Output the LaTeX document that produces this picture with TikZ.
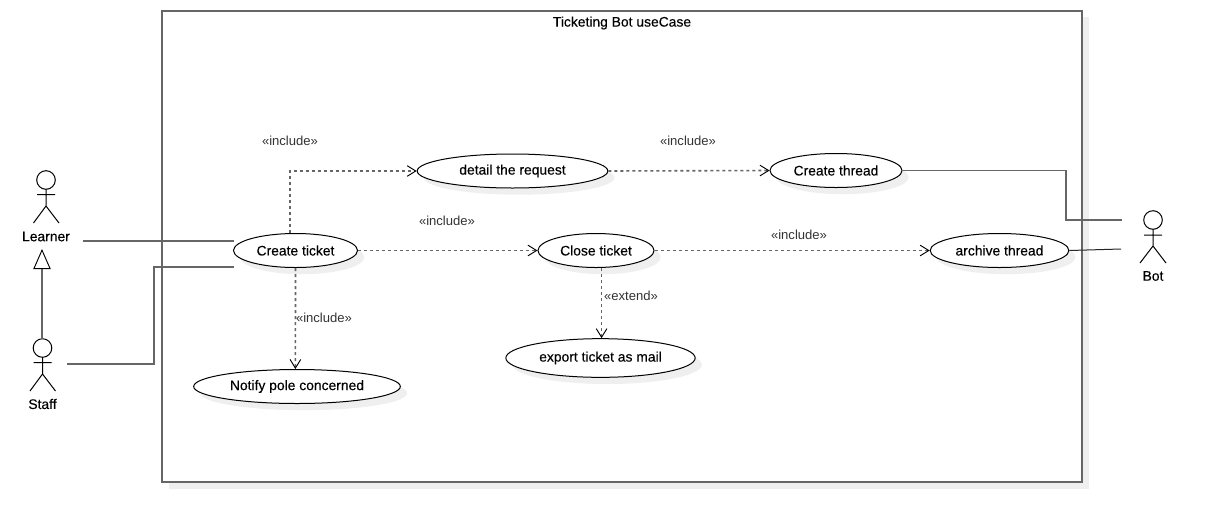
\documentclass[tikz,border=0pt]{standalone}
\usepackage{fontspec}
\setmainfont{Liberation Sans}
\usetikzlibrary{shapes.geometric,arrows.meta,shadows}
\definecolor{edgegrey}{HTML}{666666}
\definecolor{shadowgrey}{HTML}{EFEFEF}
\definecolor{labelgrey}{HTML}{333333}
\tikzset{
  x=0.75pt,y=-0.75pt,
  softshadow/.style={general shadow={shadow xshift=5pt,shadow yshift=-5pt,fill=shadowgrey,draw=none}},
  usecase/.style={ellipse,draw=black,line width=0.75pt,fill=white,inner sep=0pt,minimum height=25.5pt,softshadow,font=\fontsize{10.4}{12}\selectfont\addfontfeatures{FakeBold=0.3}},
  system/.style={rectangle,draw=edgegrey,line width=1.5pt,fill=white,inner sep=0pt,softshadow},
  title/.style={font=\fontsize{10.4}{12}\selectfont\addfontfeatures{FakeBold=0.3}},
  actorname/.style={font=\fontsize{10.4}{12}\selectfont\addfontfeatures{FakeBold=0.3}},
  stereo/.style={font=\fontsize{9.8}{12}\selectfont,text=labelgrey},
  assoc/.style={draw=edgegrey,line width=1.1pt},
  thinassoc/.style={draw=black!85,line width=0.75pt},
  dep/.style={draw=edgegrey,line width=1.2pt,dash pattern=on 2.25pt off 2.25pt,-{Straight Barb[length=6.5pt,width=8pt,black,line width=0.7pt]}},
  gen/.style={draw=edgegrey,line width=1.1pt,-{Triangle[open,length=15pt,width=13pt,black,line width=0.7pt,fill=white]}},
  figure/.style={draw=black,line width=0.75pt},
}
\begin{document}
\begin{tikzpicture}
\useasboundingbox (0,0) rectangle (1224,522);
% system boundary
\node[system,minimum width=690pt,minimum height=353.6pt] (frame) at (622,246.25) {};
\node[title] (frametitle) at (622,23) {Ticketing Bot useCase};
% use cases
\node[usecase,minimum width=93pt] (ct) at (295.5,250.5) {Create ticket};
\node[usecase,minimum width=143pt] (dr) at (512.5,171) {detail the request};
\node[usecase,minimum width=99pt] (th) at (836,170.5) {Create thread};
\node[usecase,minimum width=87pt] (cl) at (596,250.5) {Close ticket};
\node[usecase,minimum width=104pt] (ar) at (999.5,250.5) {archive thread};
\node[usecase,minimum width=142pt,minimum height=29pt] (ex) at (600.5,358) {export ticket as mail};
\node[usecase,minimum width=155pt] (no) at (297,386.5) {Notify pole concerned};
% actor figures
\draw[figure] (46,180) circle[radius=9.3];
\draw[figure] (46,189.3) -- (46,206) (37,194.5) -- (55,194.5) (33.5,223) -- (46,206) -- (59,223);
\draw[figure] (42.5,348) circle[radius=9.3];
\draw[figure] (42.5,357.3) -- (42.5,374) (33.5,362.5) -- (51.5,362.5) (30,391) -- (42.5,374) -- (55.5,391);
\draw[figure] (1153,220) circle[radius=9.3];
\draw[figure] (1153,229.3) -- (1153,246) (1144,235) -- (1162,235) (1140,263) -- (1153,246) -- (1166,263);
% actor names
\node[actorname] (learner) at (46,236.5) {Learner};
\node[actorname] (staff) at (42.5,404) {Staff};
\node[actorname] (bot) at (1153,276) {Bot};
% free connector ends beside the actors
\coordinate (learnerend) at (83,241);
\coordinate (staffend) at (67,364);
\coordinate (botupper) at (1122,220);
\coordinate (botlower) at (1121,249);
\coordinate (staffup) at (42,339);
\coordinate (learnerdown) at (42,249);
\coordinate (ctupper) at (233.5,241);
\coordinate (ctlower) at (233.5,267);
% associations
\draw[assoc] (learnerend) -- (ctupper);
\draw[assoc] (staffend) -- (154,364) -- (154,267) -- (ctlower);
\draw[assoc] (th.east) -- (1066,170.5) -- (1066,220) -- (botupper);
\draw[thinassoc] (ar.east) -- (botlower);
\draw[gen] (staffup) -- (learnerdown);
% dependencies
\draw[dep] ([xshift=-4pt]ct.north) |- (dr.west);
\draw[dep] (dr.east) -- (th.west);
\draw[dep] (ct.east) -- (cl.west);
\draw[dep] (cl.east) -- (ar.west);
\draw[dep] (ct.south) -- ([xshift=-1.2pt]no.north);
\draw[dep] ([xshift=0.8pt]ex.north |- cl.south) -- ([xshift=0.8pt]ex.north);
% stereotypes
\node[stereo] (s1) at (290,141) {«include»};
\node[stereo] (s2) at (688,141) {«include»};
\node[stereo] (s3) at (447,221) {«include»};
\node[stereo] (s4) at (799,235) {«include»};
\node[stereo] (s5) at (324,318) {«include»};
\node[stereo] (s6) at (631,296) {«extend»};
\end{tikzpicture}
\end{document}
